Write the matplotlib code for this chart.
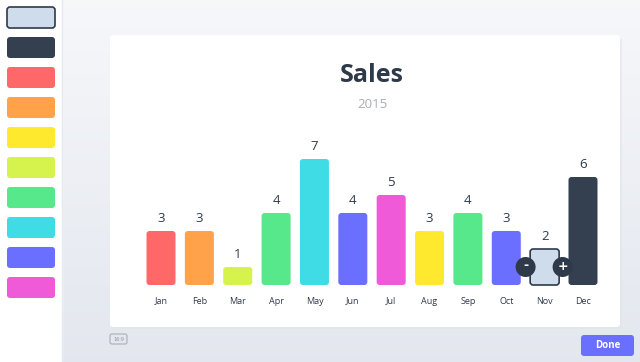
import matplotlib.pyplot as plt
import numpy as np
from matplotlib.patches import FancyBboxPatch, Circle, Rectangle

months = ['Jan', 'Feb', 'Mar', 'Apr', 'May', 'Jun', 'Jul', 'Aug', 'Sep', 'Oct', 'Nov', 'Dec']
sales = [3, 3, 1, 4, 7, 4, 5, 3, 4, 3, 2, 6]
bar_colors = ['#ff6868', '#ffa24a', '#d6f24c', '#56e88a', '#40dce6', '#6b6fff',
              '#ee5ad8', '#ffe92e', '#56e88a', '#6b6fff', '#cfdcec', '#34404f']
palette = ['#cfdcec', '#34404f', '#ff6868', '#ffa24a', '#ffe92e', '#d6f24c',
           '#56e88a', '#40dce6', '#6b6fff', '#ee5ad8']
title = 'Sales'
subtitle = '2015'
selected = 'Nov'

W, H = 640, 362
dark = '#2e3a4a'

fig = plt.figure(figsize=(W / 100, H / 100), dpi=100)

# background in pixel coords (y down)
bg = fig.add_axes([0, 0, 1, 1])
bg.set_xlim(0, W)
bg.set_ylim(H, 0)
bg.axis('off')

top_c = np.array([0.965, 0.97, 0.98])
bot_c = np.array([0.89, 0.905, 0.935])
grad = np.linspace(0, 1, 200)
img = top_c + np.outer(grad, np.ones(2))[:, :, None] * (bot_c - top_c)
bg.imshow(img, extent=[62, W, H, 0], aspect='auto', zorder=0)

# sidebar
bg.add_patch(Rectangle((0, 0), 62, H, color='white', zorder=1))
bg.plot([62, 62], [0, H], color='#e6e9ef', lw=1, zorder=2)
for i, c in enumerate(palette):
    ec = dark if i == 0 else c
    bg.add_patch(FancyBboxPatch((7, 7 + 30 * i), 48, 21, boxstyle='round,pad=0,rounding_size=3',
                                fc=c, ec=ec, lw=1.2 if i == 0 else 0, zorder=3))

# card
bg.add_patch(FancyBboxPatch((112, 38), 510, 291, boxstyle='round,pad=0,rounding_size=3',
                            fc='#dfe3ea', ec='none', alpha=0.5, zorder=2))
bg.add_patch(FancyBboxPatch((110, 35), 510, 292, boxstyle='round,pad=0,rounding_size=3',
                            fc='white', ec='none', zorder=3))

bg.text(372, 76, title, ha='center', va='center', fontsize=18, fontweight='bold',
        color=dark, family='Open Sans', zorder=4)
bg.text(372, 105, subtitle, ha='center', va='center', fontsize=9.5,
        color='#a9adb5', family='Open Sans', zorder=4)

# footer
bg.add_patch(FancyBboxPatch((110, 334), 17, 10, boxstyle='round,pad=0,rounding_size=2',
                            fc='none', ec='#a9adb5', lw=0.8, zorder=3))
bg.text(118.5, 339.5, '16:9', ha='center', va='center', fontsize=3.5, color='#8f949c', zorder=4)
bg.add_patch(FancyBboxPatch((581, 335), 53, 21, boxstyle='round,pad=0,rounding_size=3',
                            fc='#6b6fff', ec='none', zorder=3))
bg.text(607.5, 345.5, 'Done', ha='center', va='center', fontsize=7, fontweight='bold',
        color='white', family='Open Sans', zorder=4)

# chart axes
step = 38.36
x0 = 161 - 0.5 * step
x1 = 583 + 0.5 * step
base = 285
unit = 18
ymax = 8
ax = fig.add_axes([x0 / W, (H - base) / H, (x1 - x0) / W, ymax * unit / H])
ax.set_xlim(-0.5, 11.5)
ax.set_ylim(0, ymax)
ax.axis('off')
ax.patch.set_alpha(0)

bw = 29 / step
aspect = step / unit
for i, (v, c) in enumerate(zip(sales, bar_colors)):
    sel = months[i] == selected
    ax.add_patch(FancyBboxPatch((i - bw / 2, 0), bw, v, boxstyle='round,pad=0,rounding_size=%f' % (3 / step),
                                mutation_aspect=aspect, fc=c, ec=dark if sel else 'none',
                                lw=1.2 if sel else 0, zorder=3, clip_on=False))
    ax.text(i, v + 13 / unit, str(v), ha='center', va='center', fontsize=9.5, color=dark,
            family='Open Sans', clip_on=False)
    ax.text(i, -16 / unit, months[i], ha='center', va='center', fontsize=6.5, color=dark,
            family='Open Sans', clip_on=False)

# selection handles on top
top = fig.add_axes([0, 0, 1, 1])
top.set_xlim(0, W)
top.set_ylim(H, 0)
top.axis('off')
top.patch.set_alpha(0)
sel_i = months.index(selected)
for dx, s in [(-19, '-'), (18, '+')]:
    cx = 161 + sel_i * step + dx
    top.add_patch(Circle((cx, 267), 10, fc=dark, ec='none', zorder=6))
    top.text(cx, 266, s, ha='center', va='center', fontsize=9,
             fontweight='bold', color='white', zorder=7)

fig.savefig('out.png', dpi=100)
